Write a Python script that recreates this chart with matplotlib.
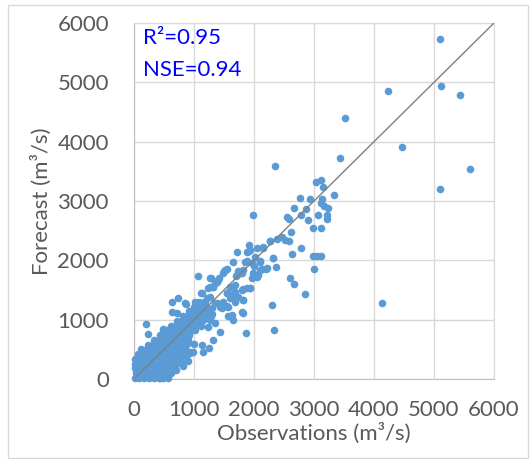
import matplotlib.pyplot as plt
from matplotlib.patches import Rectangle

# observed vs forecast discharge (m3/s), read off the chart
# high flows / outliers
obs_high = [5095, 5117, 5433, 4228, 3517, 4472, 3428, 2350, 5600, 5094,
            3033, 3122, 3156, 3339, 2767, 2933, 3133, 3122, 3167, 3228,
            2667, 2872, 1983, 2544, 2589, 2783, 3072, 3217, 3222, 2906,
            2983, 3122, 2622, 2472, 2517, 2583, 2378, 2261, 1917, 2156,
            2783, 1711, 1878, 1933, 2628, 2017, 2989, 3044, 3122, 2311,
            1656, 1878, 2100, 2000, 2367, 2194, 2128, 2994, 1544, 1500,
            1739, 1794, 1700, 2072, 2000, 1072, 1278, 1417, 1378, 2600,
            2667, 1683, 1267, 1322, 1933, 1878, 1822, 2844, 1122, 1544,
            1656, 1739, 1822, 1222, 1344, 728, 628, 861, 1033, 2300,
            4139, 1433, 1544, 628, 711, 1822, 1628, 1644, 1211, 1294,
            1267, 206, 233, 478, 1350, 1239, 1433, 1867, 2328, 1317,
            1256, 1139, 1000, 978, 1144, 795, 600, 433, 856]
fc_high = [5730, 4933, 4792, 4849, 4394, 3910, 3725, 3596, 3540, 3208,
           3326, 3348, 3241, 3107, 3056, 3028, 3028, 2961, 2916, 2877,
           2877, 2860, 2770, 2736, 2697, 2759, 2764, 2764, 2697, 2680,
           2540, 2540, 2472, 2388, 2343, 2331, 2365, 2331, 2264, 2213,
           2208, 2146, 2146, 2174, 2107, 2062, 2079, 2079, 2079, 2034,
           1972, 1983, 1989, 1905, 1893, 1860, 1849, 1860, 1849, 1815,
           1826, 1782, 1736, 1753, 1736, 1736, 1702, 1702, 1640, 1697,
           1601, 1584, 1545, 1556, 1539, 1528, 1512, 1433, 1455, 1444,
           1433, 1388, 1332, 1360, 1276, 1365, 1293, 1259, 1286, 1242,
           1281, 1219, 1230, 1124, 1107, 1118, 1079, 995, 1107, 1096,
           995, 927, 753, 843, 949, 882, 797, 770, 826, 657,
           528, 573, 590, 460, 460, 258, 106, 12, 1276]

# middle band 1000-2300
obs_mid = [1922, 2044, 2156, 2267, 1850, 1961, 2100, 2322, 1767, 1711,
           1822, 1517, 1489, 1406, 1350, 1989, 2100, 2211, 2044, 1961,
           1267, 1322, 1239, 1128, 1600, 1683, 1544, 1794, 1933, 1267,
           1183, 1017, 1378, 1294, 1211, 1489, 1600, 1711, 1822, 1461,
           1572, 1683, 1794, 1100, 989, 1156, 1561]
fc_mid = [2163, 2203, 2220, 2331, 1977, 1950, 1977, 2034, 1808, 1753,
          1837, 1837, 1781, 1669, 1613, 1781, 1837, 1866, 1725, 1697,
          1697, 1556, 1528, 1444, 1556, 1472, 1444, 1500, 1528, 1388,
          1303, 1303, 1276, 1192, 1192, 1303, 1360, 1388, 1332, 1192,
          1219, 1303, 1135, 1135, 1107, 1051, 1068]

# dense low-flow cluster
obs_low = [10, 90, 170, 250, 330, 410, 490, 560,
           30, 110, 190, 270, 350, 430, 510, 590,
           15, 95, 175, 255, 335, 415, 495, 575, 640,
           20, 100, 180, 260, 340, 420, 500, 580, 660,
           10, 90, 170, 250, 330, 410, 490, 570, 650, 740,
           60, 140, 220, 300, 380, 460, 540, 620, 700, 790, 930,
           120, 200, 280, 360, 440, 520, 600, 680, 760, 850,
           230, 310, 390, 470, 550, 630, 710, 790, 880,
           340, 420, 500, 580, 660, 740, 820, 900,
           440, 520, 600, 680, 760, 840, 920,
           530, 610, 690, 770, 850, 930, 1020,
           620, 700, 780, 860, 940, 1030, 1110,
           720, 800, 880, 960, 1050, 1150,
           820, 900, 980, 1070, 1180, 1290,
           910, 990, 1080, 1170,
           1000, 1100, 1190,
           1080, 1160,
           700, 780, 860, 940, 820, 900, 620, 700]
fc_low = [20, 15, 25, 18, 22, 10, 20, 15,
          100, 95, 105, 110, 98, 100, 92, 105,
          180, 175, 185, 178, 190, 182, 176, 185, 170,
          260, 255, 265, 262, 258, 250, 268, 255, 262,
          340, 335, 345, 338, 342, 350, 336, 344, 338, 345,
          420, 415, 425, 418, 422, 410, 428, 415, 422, 418, 430,
          500, 495, 505, 498, 502, 510, 496, 504, 498, 505,
          580, 575, 585, 578, 582, 570, 588, 575, 582,
          660, 655, 665, 658, 662, 650, 668, 655,
          740, 735, 745, 738, 742, 750, 736,
          820, 815, 825, 818, 822, 810, 828,
          900, 895, 905, 898, 902, 910, 896,
          980, 975, 985, 978, 982, 990,
          1060, 1055, 1065, 1058, 1062, 1070,
          1140, 1135, 1145, 1150,
          1220, 1215, 1225,
          1300, 1295,
          260, 300, 380, 460, 220, 300, 100, 150]

obs = obs_high + obs_mid + obs_low
fc = fc_high + fc_mid + fc_low

ticks = [0, 1000, 2000, 3000, 4000, 5000, 6000]

plt.rcParams['font.family'] = ['Lato', 'DejaVu Sans']

fig = plt.figure(figsize=(5.31, 4.59), dpi=100)
ax = fig.add_axes([134/531, 1-379/459, 360/531, 356/459])

ax.scatter(obs, fc, s=30, color='#5B9BD5', linewidths=0, zorder=3, clip_on=False)
ax.plot([0, 6000], [0, 6000], color='#808080', lw=1, zorder=4)

ax.set_xlim(0, 6000)
ax.set_ylim(0, 6000)
ax.set_xticks(ticks)
ax.set_yticks(ticks)
ax.grid(True, color='#D9D9D9', lw=1)
ax.set_axisbelow(True)
for sp in ax.spines.values():
    sp.set_color('#D9D9D9')
ax.spines['left'].set_color('#BFBFBF')
ax.spines['bottom'].set_color('#BFBFBF')
ax.tick_params(axis='both', length=0, labelsize=16, labelcolor='#595959')
ax.tick_params(axis='y', pad=18)
ax.tick_params(axis='x', pad=15)

ax.set_xlabel('Observations (m³/s)', fontsize=16, color='#595959', labelpad=2)
ax.set_ylabel('Forecast (m³/s)', fontsize=16, color='#595959', labelpad=4)

ax.text(0.025, 0.985, 'R²=0.95', transform=ax.transAxes, fontsize=16,
        color='#0000FF', va='top', ha='left')
ax.text(0.025, 0.895, 'NSE=0.94', transform=ax.transAxes, fontsize=16,
        color='#0000FF', va='top', ha='left')

fig.patches.append(Rectangle((8/531, 1-458/459), 520/531, 453/459, fill=False,
                             edgecolor='#D9D9D9', lw=1, transform=fig.transFigure))

plt.savefig('out.png', dpi=100)
